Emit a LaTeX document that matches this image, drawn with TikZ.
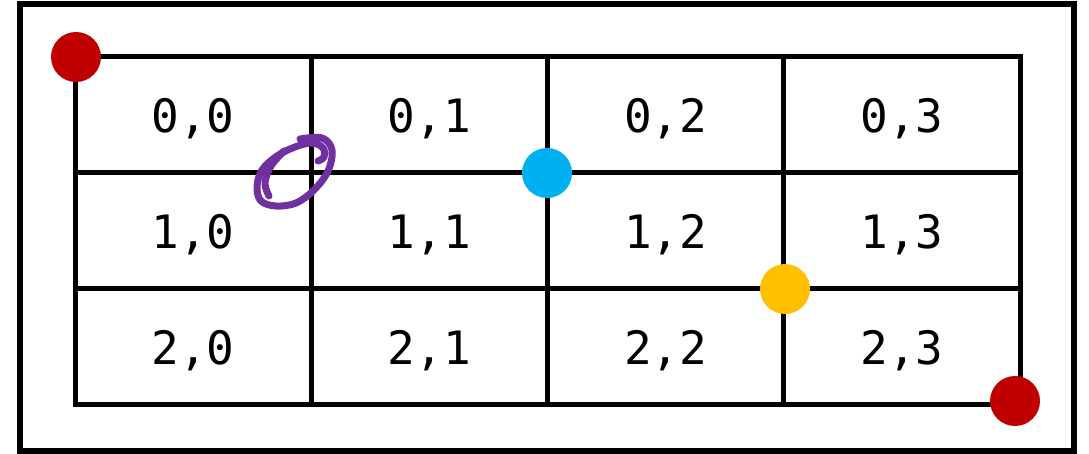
\documentclass[tikz,border=0pt]{standalone}
\usepackage{fontspec}
\newfontfamily\gridmono{DejaVu Sans Mono}
\definecolor{dotred}{HTML}{C00000}
\definecolor{dotblue}{HTML}{00B0F0}
\definecolor{dotyellow}{HTML}{FFC000}
\definecolor{scribble}{HTML}{7030A0}
\tikzset{
  cell/.style={draw=black, line width=5pt, minimum width=236.25pt, minimum height=115.67pt, inner sep=0pt},
  label/.style={font=\gridmono\fontsize{46}{46}\selectfont, inner sep=0pt},
  dot/.style={circle, fill=#1, minimum size=50pt, inner sep=0pt},
  frame/.style={draw=black, line width=6pt},
  pen/.style={draw=scribble, line width=7pt, line cap=round, line join=round}
}
\begin{document}
\begin{tikzpicture}[x=1pt,y=-1pt]
\useasboundingbox (0,0) rectangle (1089,454);
\draw[frame] (19.5,4.5) rectangle (1074,451);
\foreach \r in {0,1,2}{
  \foreach \c in {0,1,2,3}{
    \node[cell] (c\r\c) at ({75+236.25*\c+118.125},{57+115.67*\r+57.83}) {};
    \node[label] (t\r\c) at ([yshift=-4pt]c\r\c.center) {\r,\c};
  }
}
\node[dot=dotred] (r1) at (76,57) {};
\node[dot=dotred] (r2) at (1015,401) {};
\node[dot=dotblue] (b1) at (547,173) {};
\node[dot=dotyellow] (y1) at (785,289) {};
\draw[pen] plot[smooth, tension=0.6] coordinates {(300,139) (322,138) (332,150) (328,171) (314,190) (296,203) (276,206) (261,201) (257,187) (262,170) (277,156) (295,147) (312,143) (323,148) (324,157) (318,161)};
\draw[pen] plot[smooth, tension=0.6] coordinates {(284,151) (271,166) (265,183) (269,196)};
\end{tikzpicture}
\end{document}
